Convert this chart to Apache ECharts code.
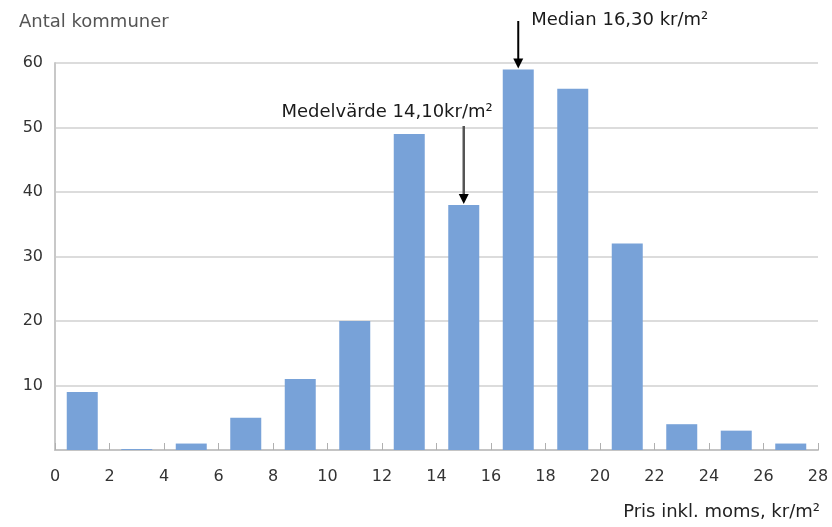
<!DOCTYPE html>
<html>
<head>
<meta charset="utf-8">
<script src="https://cdn.jsdelivr.net/npm/echarts@6/dist/echarts.min.js"></script>
<style>
html,body{margin:0;padding:0;background:#fff;}
#c{width:832px;height:527px;}
</style>
</head>
<body>
<div id="c"></div>
<script>
// Data
const binCenters = [1, 3, 5, 7, 9, 11, 13, 15, 17, 19, 21, 23, 25, 27];
const counts = [9, 0.15, 1, 5, 11, 20, 49, 38, 59, 56, 32, 4, 3, 1];
const xTicks = [0, 2, 4, 6, 8, 10, 12, 14, 16, 18, 20, 22, 24, 26, 28];
const yTicks = [0, 10, 20, 30, 40, 50, 60];
const medianBin = 17, medianCount = 59, medianLabel = 'Median 16,30 kr/m²';
const meanBin = 15, meanCount = 38, meanLabel = 'Medelvärde 14,10kr/m²';
const yTitle = 'Antal kommuner';
const xTitle = 'Pris inkl. moms, kr/m²';

const FONT = '"DejaVu Sans", "Liberation Sans", sans-serif';
const chart = echarts.init(document.getElementById('c'));
const barData = binCenters.map((x, i) => [x, counts[i]]);

chart.setOption({
  animation: false,
  backgroundColor: '#fff',
  grid: { left: 55, right: 14, top: 63, bottom: 77 },
  xAxis: {
    type: 'value', min: xTicks[0], max: xTicks[xTicks.length - 1], interval: 2,
    axisLine: { show: true, lineStyle: { color: '#c4c4c4', width: 2 } },
    axisTick: { show: true, inside: true, length: 7, lineStyle: { color: '#b0b0b0', width: 1 } },
    axisLabel: { color: '#333', fontFamily: FONT, fontSize: 16, margin: 19 },
    splitLine: { show: false }
  },
  yAxis: {
    type: 'value', min: yTicks[0], max: yTicks[yTicks.length - 1], interval: 10,
    axisLine: { show: true, lineStyle: { color: '#c8c8c8', width: 2 } },
    axisTick: { show: false },
    axisLabel: { color: '#333', fontFamily: FONT, fontSize: 16, margin: 12,
      formatter: v => v === 0 ? '' : String(v) },
    splitLine: { show: true, lineStyle: { color: '#d0d0d0', width: 1.5 } }
  },
  series: [{
    type: 'bar',
    data: barData,
    barWidth: 31,
    itemStyle: { color: '#78a2d8' }
  }],
  graphic: []
});

// annotations positioned through the chart's own scale
const gr = [];
const medTop = chart.convertToPixel({ gridIndex: 0 }, [medianBin, medianCount]);
const meanTop = chart.convertToPixel({ gridIndex: 0 }, [meanBin, meanCount]);

gr.push({ type: 'text', z: 100, x: 19, y: 22, style: { text: yTitle, font: '18px ' + FONT, fill: '#555', verticalAlign: 'middle' } });
gr.push({ type: 'text', z: 100, x: 820, y: 512, style: { text: xTitle, font: '18px ' + FONT, fill: '#222', align: 'right', verticalAlign: 'middle' } });

// Median arrow
gr.push({ type: 'line', z: 100, shape: { x1: medTop[0], y1: 21, x2: medTop[0], y2: medTop[1] - 9 },
  style: { stroke: '#000', lineWidth: 2 } });
gr.push({ type: 'polygon', z: 100, shape: { points: [[medTop[0] - 5, medTop[1] - 11], [medTop[0] + 5, medTop[1] - 11], [medTop[0], medTop[1] - 1]] },
  style: { fill: '#000' } });
gr.push({ type: 'text', z: 100, x: medTop[0] + 13, y: 20, style: { text: medianLabel, font: '18px ' + FONT, fill: '#1a1a1a', verticalAlign: 'middle' } });

// Mean arrow
gr.push({ type: 'line', z: 100, shape: { x1: meanTop[0], y1: 126, x2: meanTop[0], y2: meanTop[1] - 9 },
  style: { stroke: '#555', lineWidth: 2.5 } });
gr.push({ type: 'polygon', z: 100, shape: { points: [[meanTop[0] - 5, meanTop[1] - 11], [meanTop[0] + 5, meanTop[1] - 11], [meanTop[0], meanTop[1] - 1]] },
  style: { fill: '#000' } });
gr.push({ type: 'text', z: 100, x: meanTop[0] + 29, y: 112, style: { text: meanLabel, font: '18px ' + FONT, fill: '#1a1a1a', align: 'right', verticalAlign: 'middle' } });

chart.setOption({ graphic: gr });
</script>
</body>
</html>
